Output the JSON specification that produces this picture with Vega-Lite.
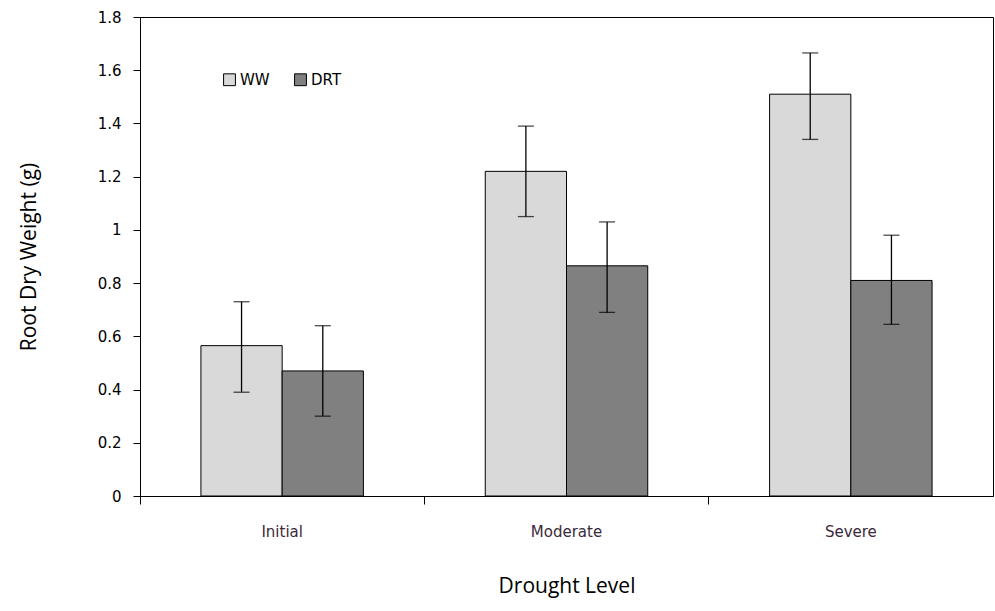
{
  "$schema": "https://vega.github.io/schema/vega-lite/v6.json",
  "autosize": "none",
  "padding": {"left": 140, "top": 17, "right": 2, "bottom": 115},
  "width": 853,
  "height": 479,
  "background": "white",
  "config": {"view": {"stroke": "black", "strokeWidth": 1}},
  "data": {
    "values": [
      {"level": "Initial", "group": "WW", "value": 0.565, "lo": 0.39, "hi": 0.73},
      {"level": "Initial", "group": "DRT", "value": 0.47, "lo": 0.3, "hi": 0.64},
      {"level": "Moderate", "group": "WW", "value": 1.22, "lo": 1.05, "hi": 1.39},
      {"level": "Moderate", "group": "DRT", "value": 0.865, "lo": 0.69, "hi": 1.03},
      {"level": "Severe", "group": "WW", "value": 1.51, "lo": 1.34, "hi": 1.665},
      {"level": "Severe", "group": "DRT", "value": 0.81, "lo": 0.645, "hi": 0.98}
    ]
  },
  "encoding": {
    "x": {
      "field": "level", "type": "nominal", "sort": ["Initial", "Moderate", "Severe"],
      "scale": {"paddingInner": 0, "paddingOuter": 0},
      "axis": {
        "title": "Drought Level", "titleFont": "Open Sans", "titleFontSize": 21, "titleFontWeight": "normal",
        "titleColor": "black", "titlePadding": 36,
        "labelAngle": 0, "labelFont": "DejaVu Sans", "labelFontSize": 15, "labelColor": "#3a2a3a", "labelPadding": 20,
        "bandPosition": 0, "tickSize": 8, "tickColor": "black", "domainColor": "black"
      }
    },
    "xOffset": {"field": "group", "type": "nominal", "sort": ["WW", "DRT"], "scale": {"paddingOuter": 0.75, "paddingInner": 0}}
  },
  "layer": [
    {
      "mark": {"type": "bar", "stroke": "black", "strokeWidth": 1},
      "encoding": {
        "y": {
          "field": "value", "type": "quantitative", "scale": {"domain": [0, 1.8]},
          "axis": {
            "title": "Root Dry Weight (g)", "titleFont": "Open Sans", "titleFontSize": 21, "titleFontWeight": "normal",
            "titleColor": "black", "titlePadding": 58,
            "values": [0, 0.2, 0.4, 0.6, 0.8, 1, 1.2, 1.4, 1.6, 1.8], "labelExpr": "format(datum.value, '~g')",
            "labelFont": "DejaVu Sans", "labelFontSize": 15, "labelColor": "black", "labelPadding": 12,
            "grid": false, "tickSize": 7, "tickColor": "black", "domainColor": "black"
          }
        },
        "color": {
          "field": "group", "type": "nominal", "sort": ["WW", "DRT"],
          "scale": {"domain": ["WW", "DRT"], "range": ["#d9d9d9", "#808080"]},
          "legend": {
            "title": null, "orient": "none", "legendX": 82, "legendY": 55, "direction": "horizontal",
            "symbolType": "square", "symbolSize": 140, "symbolStrokeColor": "black", "symbolStrokeWidth": 1,
            "labelFont": "DejaVu Sans", "labelFontSize": 15, "labelColor": "black", "columnPadding": 22, "labelOffset": 3
          }
        }
      }
    },
    {
      "mark": {"type": "rule", "color": "black", "strokeWidth": 1.3},
      "encoding": {"y": {"field": "lo", "type": "quantitative"}, "y2": {"field": "hi"}}
    },
    {
      "mark": {"type": "tick", "color": "black", "size": 16, "thickness": 1.3},
      "encoding": {"y": {"field": "lo", "type": "quantitative"}}
    },
    {
      "mark": {"type": "tick", "color": "black", "size": 16, "thickness": 1.3},
      "encoding": {"y": {"field": "hi", "type": "quantitative"}}
    }
  ]
}
